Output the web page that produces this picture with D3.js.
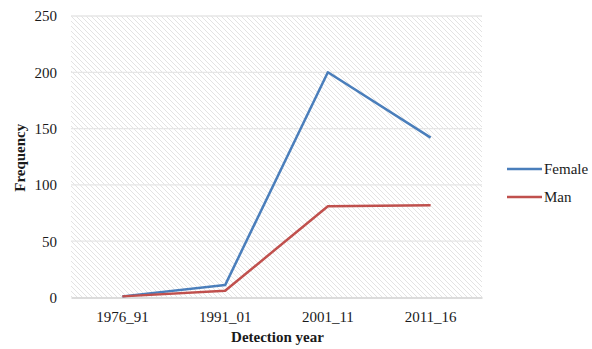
<!DOCTYPE html>
<html>
<head>
<meta charset="utf-8">
<script src="https://cdn.jsdelivr.net/npm/d3@7"></script>
<style>
  html, body { margin: 0; padding: 0; background: #fff; }
  svg { display: block; }
</style>
</head>
<body>
<svg id="chart" width="592" height="349"></svg>
<script>
// Detection periods and case counts per sex
const categories = ["1976_91", "1991_01", "2001_11", "2011_16"];
const female = [1, 11, 200, 142];
const man = [1, 6, 81, 82];
const yTicks = [0, 50, 100, 150, 200, 250];
const seriesNames = ["Female", "Man"];
const seriesColors = ["#4a7ebb", "#c0504d"];

const FONT = "Liberation Serif";
const TEXT_COLOR = "#1a1a1a";

const svg = d3.select("#chart");
const plot = { left: 71, right: 482, top: 16, bottom: 297.5 };

const x = d3.scaleBand().domain(categories).range([plot.left, plot.right]);
const y = d3.scaleLinear().domain([0, 250]).range([plot.bottom, plot.top]);

// Diagonal hatch fill for the plot area
const defs = svg.append("defs");
const pat = defs.append("pattern")
  .attr("id", "hatch")
  .attr("patternUnits", "userSpaceOnUse")
  .attr("width", 5).attr("height", 5);
pat.append("path")
  .attr("d", "M-1,-1 L6,6 M-1,4 L1,6 M4,-1 L6,1")
  .attr("stroke", "#e0e0e0")
  .attr("stroke-width", 0.9);

svg.append("rect")
  .attr("x", plot.left).attr("y", plot.top)
  .attr("width", plot.right - plot.left)
  .attr("height", plot.bottom - plot.top)
  .attr("fill", "url(#hatch)");

// Horizontal gridlines
svg.append("g")
  .selectAll("line")
  .data(yTicks.filter(d => d > 0))
  .join("line")
  .attr("x1", plot.left).attr("x2", plot.right)
  .attr("y1", d => y(d)).attr("y2", d => y(d))
  .attr("stroke", "#e6e6e6").attr("stroke-width", 1.3);

// Y axis (labels only)
const yAxis = svg.append("g")
  .attr("transform", `translate(${plot.left},0)`)
  .call(d3.axisLeft(y).tickValues(yTicks).tickSize(0).tickPadding(14));
yAxis.select(".domain").remove();
yAxis.selectAll("text")
  .attr("font-family", FONT).attr("font-size", 15).attr("fill", TEXT_COLOR);

// X axis baseline and labels
const xAxis = svg.append("g")
  .attr("transform", `translate(0,${plot.bottom})`)
  .call(d3.axisBottom(x).tickSize(0).tickPadding(14));
xAxis.select(".domain").attr("stroke", "#d0d0d0").attr("stroke-width", 1.5);
xAxis.selectAll("text")
  .attr("font-family", FONT).attr("font-size", 15).attr("fill", TEXT_COLOR);

// Axis titles
svg.append("text")
  .attr("x", (plot.left + plot.right) / 2 + 1)
  .attr("y", 342)
  .attr("text-anchor", "middle")
  .attr("font-family", FONT)
  .attr("font-size", 15)
  .attr("font-weight", "bold")
  .attr("fill", TEXT_COLOR)
  .text("Detection year");

svg.append("text")
  .attr("transform", `translate(25,${(plot.top + plot.bottom) / 2 + 1}) rotate(-90)`)
  .attr("text-anchor", "middle")
  .attr("font-family", FONT)
  .attr("font-size", 15)
  .attr("font-weight", "bold")
  .attr("fill", TEXT_COLOR)
  .text("Frequency");

// Series lines
const line = d3.line()
  .x((d, i) => x(categories[i]) + x.bandwidth() / 2)
  .y(d => y(d));

[female, man].forEach((vals, i) => {
  svg.append("path")
    .datum(vals)
    .attr("d", line)
    .attr("fill", "none")
    .attr("stroke", seriesColors[i])
    .attr("stroke-width", 2.5)
    .attr("stroke-linejoin", "round");
});

// Legend
const legend = svg.append("g");
seriesNames.forEach((name, i) => {
  const ly = 169 + i * 28;
  legend.append("line")
    .attr("x1", 507).attr("x2", 542)
    .attr("y1", ly).attr("y2", ly)
    .attr("stroke", seriesColors[i]).attr("stroke-width", 2.5);
  legend.append("text")
    .attr("x", 544).attr("y", ly + 5)
    .attr("font-family", FONT)
    .attr("font-size", 15)
    .attr("fill", TEXT_COLOR)
    .text(name);
});
</script>
</body>
</html>
